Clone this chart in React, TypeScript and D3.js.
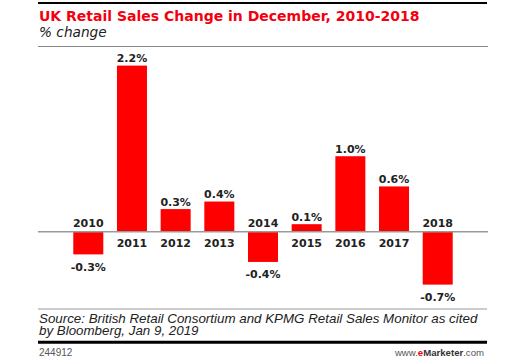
import React from "react";
import * as d3 from "d3";

const years = ["2010", "2011", "2012", "2013", "2014", "2015", "2016", "2017", "2018"];
const values = [-0.3, 2.2, 0.3, 0.4, -0.4, 0.1, 1.0, 0.6, -0.7];

const title = "UK Retail Sales Change in December, 2010-2018";
const subtitle = "% change";
const sourceLines = [
  "Source: British Retail Consortium and KPMG Retail Sales Monitor as cited",
  "by Bloomberg, Jan 9, 2019",
];
const chartId = "244912";

const W = 526;
const H = 358;
const L = 38;
const R = 488;

export default function App() {
  const x = d3
    .scaleBand<string>()
    .domain(years)
    .range([L, R])
    .paddingInner(0.313)
    .paddingOuter(0.808);
  const y = d3.scaleLinear().domain([-0.7, 2.2]).range([284.6, 65.6]);
  const y0 = y(0);
  const lab = { fontFamily: "DejaVu Sans", fontWeight: 700, fontSize: 11, fill: "#222" } as const;

  return (
    <svg width={W} height={H} style={{ position: "absolute", left: 0, top: 0, background: "#fff" }}>
      <rect x={0} y={0} width={W} height={H} fill="#fff" />
      <line x1={L} x2={R - 1} y1={3} y2={3} stroke="#000" strokeWidth={2.2} />
      <text x={39} y={20.5} fontFamily="DejaVu Sans" fontWeight={700} fontSize={14} fill="#f2000f">
        {title}
      </text>
      <text x={39} y={37} fontFamily="DejaVu Sans" fontStyle="italic" fontSize={13.7} fill="#222">
        {subtitle}
      </text>
      <line x1={L} x2={R} y1={46.5} y2={46.5} stroke="#888" strokeWidth={1.2} />

      {years.map((yr, i) => {
        const v = values[i];
        const bx = x(yr)!;
        const bw = x.bandwidth();
        const top = Math.min(y(v), y0);
        const h = Math.abs(y(v) - y0);
        const cx = bx + bw / 2;
        const label = `${v.toFixed(1)}%`;
        return (
          <g key={yr}>
            <rect x={bx} y={top} width={bw} height={h} fill="#ff0000" />
            {v >= 0 ? (
              <>
                <text x={cx} y={y(v) - 3.5} textAnchor="middle" {...lab}>{label}</text>
                <text x={cx} y={y0 + 15} textAnchor="middle" {...lab}>{yr}</text>
              </>
            ) : (
              <>
                <text x={cx} y={y0 - 5} textAnchor="middle" {...lab}>{yr}</text>
                <text x={cx} y={y(v) + 16.5} textAnchor="middle" {...lab}>{label}</text>
              </>
            )}
          </g>
        );
      })}
      <line x1={L} x2={R} y1={y0} y2={y0} stroke="#999" strokeWidth={1.5} />

      <line x1={L} x2={R - 1} y1={309} y2={309} stroke="#999" strokeWidth={1} />
      {sourceLines.map((s, i) => (
        <text key={i} x={39} y={322.5 + i * 12.3} fontFamily="Liberation Sans, Arial" fontStyle="italic" fontSize={13.35} fill="#222">
          {s}
        </text>
      ))}
      <line x1={L} x2={R - 1} y1={342.3} y2={342.3} stroke="#000" strokeWidth={3} />
      <text x={39} y={355.5} fontFamily="Liberation Sans, Arial" fontSize={10} fill="#555">
        {chartId}
      </text>
      <text x={484} y={355.5} textAnchor="end" fontFamily="Liberation Sans, Arial" fontSize={9.6} fill="#555">
        www.<tspan fill="#f2000f" fontWeight={700}>e</tspan>
        <tspan fill="#333" fontWeight={700}>Marketer</tspan>.com
      </text>
    </svg>
  );
}
